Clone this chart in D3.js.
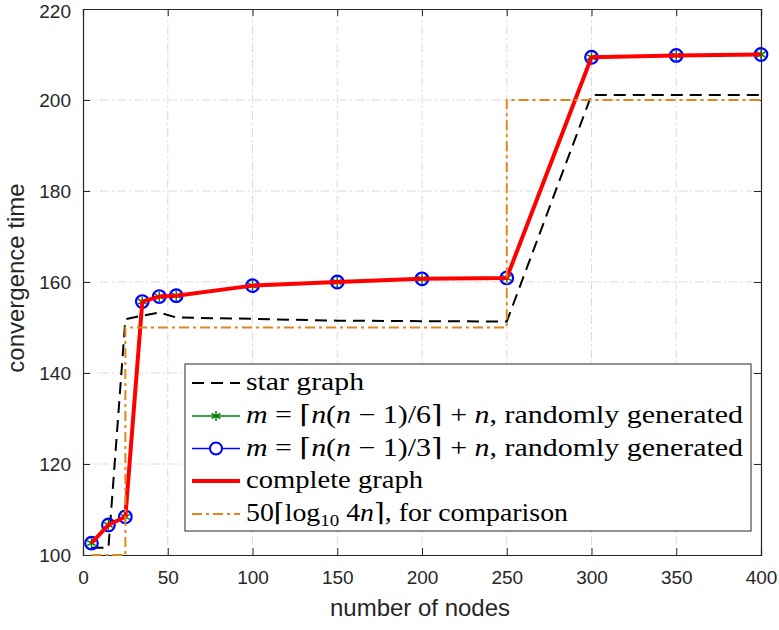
<!DOCTYPE html>
<html>
<head>
<meta charset="utf-8">
<script src="https://cdn.jsdelivr.net/npm/d3@7/dist/d3.min.js"></script>
<style>
  html, body { margin: 0; padding: 0; background: #fff; }
  svg { display: block; }
</style>
</head>
<body>
<svg id="chart" width="779" height="630"></svg>
<script>
// Number of nodes at which each graph family was simulated
const nodes = [5, 15, 25, 35, 45, 55, 100, 150, 200, 250, 300, 350, 400];

// Convergence times per graph family
const starGraph    = [101.6, 101.6, 151.8, 152.6, 153.3, 152.2, 151.9, 151.5, 151.4, 151.3, 201.1, 201.1, 201.1];
const sparseRandom = [102.6, 106.6, 108.4, 155.7, 156.8, 157.0, 159.2, 160.0, 160.7, 160.9, 209.4, 209.8, 210.0];
const denseRandom  = [102.6, 106.6, 108.4, 155.7, 156.8, 157.0, 159.2, 160.0, 160.7, 160.9, 209.4, 209.8, 210.0];
const completeGraph = [102.6, 106.6, 108.4, 155.7, 156.8, 157.0, 159.2, 160.0, 160.7, 160.9, 209.4, 209.8, 210.0];
// 50*ceil(log10(4n)) reference, drawn as a staircase
const logBound     = [100, 100, 150, 150, 150, 150, 150, 150, 150, 200, 200, 200, 200];

const xTicks = [0, 50, 100, 150, 200, 250, 300, 350, 400];
const yTicks = [100, 120, 140, 160, 180, 200, 220];

const svg = d3.select("#chart");
const L = 83, R = 761, T = 9, B = 555;

const x = d3.scaleLinear().domain([0, 400]).range([L, R]);
const y = d3.scaleLinear().domain([100, 220]).range([B, T]);

const axisColor = "#262626";
const sansFont = "'Liberation Sans', Arial, sans-serif";
const serifFont = "'Liberation Serif', 'DejaVu Serif', serif";

// Grid
const grid = svg.append("g").attr("stroke", "#dcdcdc").attr("stroke-width", 1)
  .attr("stroke-dasharray", "9,3,2,3");
grid.selectAll("line.gx").data(xTicks.slice(1, -1)).join("line")
  .attr("x1", d => x(d)).attr("x2", d => x(d)).attr("y1", T).attr("y2", B);
grid.selectAll("line.gy").data(yTicks.slice(1, -1)).join("line")
  .attr("x1", L).attr("x2", R).attr("y1", d => y(d)).attr("y2", d => y(d));

// Axes (ticks inward, box on all sides)
const tickLen = 7;
const axB = svg.append("g").attr("transform", `translate(0,${B})`)
  .call(d3.axisBottom(x).tickValues(xTicks).tickSize(-tickLen).tickPadding(16).tickFormat(d3.format("d")));
const axT = svg.append("g").attr("transform", `translate(0,${T})`)
  .call(d3.axisTop(x).tickValues(xTicks).tickSize(-tickLen).tickFormat(""));
const axL = svg.append("g").attr("transform", `translate(${L},0)`)
  .call(d3.axisLeft(y).tickValues(yTicks).tickSize(-tickLen).tickPadding(12).tickFormat(d3.format("d")));
const axR = svg.append("g").attr("transform", `translate(${R},0)`)
  .call(d3.axisRight(y).tickValues(yTicks).tickSize(-tickLen).tickFormat(""));
[axB, axT, axL, axR].forEach(a => {
  a.selectAll("path.domain").attr("stroke", axisColor).attr("stroke-width", 1.2);
  a.selectAll(".tick line").attr("stroke", axisColor).attr("stroke-width", 1);
  a.selectAll(".tick text").attr("fill", axisColor).attr("font-family", sansFont).attr("font-size", 19);
});
// keep the topmost label inside the canvas
axL.selectAll(".tick text").filter(d => d === 220).attr("dy", "0.45em");

// Axis titles
svg.append("text").attr("x", 420).attr("y", 616).attr("text-anchor", "middle")
  .attr("font-family", sansFont).attr("font-size", 24).attr("fill", axisColor).text("number of nodes");
svg.append("text").attr("transform", `translate(24,${(T + B) / 2 - 4}) rotate(-90)`).attr("text-anchor", "middle")
  .attr("font-family", sansFont).attr("font-size", 24).attr("fill", axisColor).text("convergence time");

const plot = svg.append("g");
const line = vals => d3.line().x((d, i) => x(nodes[i])).y(d => y(d))(vals);

// Star graph
plot.append("path").attr("d", line(starGraph)).attr("fill", "none")
  .attr("stroke", "#000").attr("stroke-width", 2).attr("stroke-dasharray", "12,7");

// Random graphs
const green = "#008000", blue = "#0000ff";
plot.append("path").attr("d", line(sparseRandom)).attr("fill", "none").attr("stroke", green).attr("stroke-width", 1.5);
function starMarker(g, cx, cy, r, color) {
  const s = g.append("g").attr("stroke", color).attr("stroke-width", 1.5);
  [0, 60, 120].forEach(a => {
    const rad = a * Math.PI / 180;
    s.append("line").attr("x1", cx - r * Math.sin(rad)).attr("y1", cy - r * Math.cos(rad))
      .attr("x2", cx + r * Math.sin(rad)).attr("y2", cy + r * Math.cos(rad));
  });
}
sparseRandom.forEach((v, i) => starMarker(plot, x(nodes[i]), y(v), 5, green));

plot.append("path").attr("d", line(denseRandom)).attr("fill", "none").attr("stroke", blue).attr("stroke-width", 1.5);
plot.selectAll("circle.dense").data(denseRandom).join("circle")
  .attr("cx", (d, i) => x(nodes[i])).attr("cy", d => y(d)).attr("r", 6.3)
  .attr("fill", "none").attr("stroke", blue).attr("stroke-width", 2.2);

// Complete graph
plot.append("path").attr("d", line(completeGraph)).attr("fill", "none")
  .attr("stroke", "#ff0000").attr("stroke-width", 4).attr("stroke-linejoin", "round");

// Logarithmic reference staircase
const orange = "#e0871c";
plot.append("path")
  .attr("d", d3.line().curve(d3.curveStepAfter).x((d, i) => x(nodes[i])).y(d => y(d))(logBound))
  .attr("fill", "none").attr("stroke", orange).attr("stroke-width", 2)
  .attr("stroke-dasharray", "10,4,3,4");

// Legend
const lg = svg.append("g");
const lx = 185, ly = 364, lw = 566, lh = 167;
lg.append("rect").attr("x", lx).attr("y", ly).attr("width", lw).attr("height", lh)
  .attr("fill", "#fff").attr("stroke", axisColor).attr("stroke-width", 1);

const rowY = [383, 416, 448.5, 481, 514];
const sx1 = 192, sx2 = 240, tx = 246;
// samples
lg.append("line").attr("x1", sx1).attr("x2", sx2).attr("y1", rowY[0]).attr("y2", rowY[0])
  .attr("stroke", "#000").attr("stroke-width", 2).attr("stroke-dasharray", "12,7");
lg.append("line").attr("x1", sx1).attr("x2", sx2).attr("y1", rowY[1]).attr("y2", rowY[1])
  .attr("stroke", green).attr("stroke-width", 1.5);
starMarker(lg, (sx1 + sx2) / 2, rowY[1], 5, green);
lg.append("line").attr("x1", sx1).attr("x2", sx2).attr("y1", rowY[2]).attr("y2", rowY[2])
  .attr("stroke", blue).attr("stroke-width", 1.5);
lg.append("circle").attr("cx", (sx1 + sx2) / 2).attr("cy", rowY[2]).attr("r", 6)
  .attr("fill", "#fff").attr("stroke", blue).attr("stroke-width", 2);
lg.append("line").attr("x1", sx1).attr("x2", sx2).attr("y1", rowY[3]).attr("y2", rowY[3])
  .attr("stroke", "#ff0000").attr("stroke-width", 4);
lg.append("line").attr("x1", sx1).attr("x2", sx2).attr("y1", rowY[4]).attr("y2", rowY[4])
  .attr("stroke", orange).attr("stroke-width", 2).attr("stroke-dasharray", "10,4,3,4");

// labels, built from plain and italic pieces; widths pinned so rows line up
const labelParts = [
  [["star graph", false]],
  [["m", true], [" = \u2308", false], ["n", true], ["(", false], ["n", true], [" \u2212 1)/6\u2309 + ", false], ["n", true], [", randomly generated", false]],
  [["m", true], [" = \u2308", false], ["n", true], ["(", false], ["n", true], [" \u2212 1)/3\u2309 + ", false], ["n", true], [", randomly generated", false]],
  [["complete graph", false]],
  [["50\u2308log", false], ["10", false, "sub"], [" 4", false, "up"], ["n", true], ["\u2309, for comparison", false]]
];
const labelWidths = [118, 497, 497, 177, 322];
labelParts.forEach((parts, r) => {
  const t = lg.append("text").attr("x", tx).attr("y", rowY[r] + 7)
    .attr("font-family", serifFont).attr("font-size", 25).attr("fill", "#000")
    .attr("textLength", labelWidths[r]).attr("lengthAdjust", "spacingAndGlyphs");
  parts.forEach(p => {
    const ts = t.append("tspan").text(p[0]);
    if (p[1]) ts.attr("font-style", "italic");
    if (p[2] === "sub") ts.attr("font-size", 17).attr("dy", 5);
    if (p[2] === "up") ts.attr("dy", -5);
  });
});
</script>
</body>
</html>
